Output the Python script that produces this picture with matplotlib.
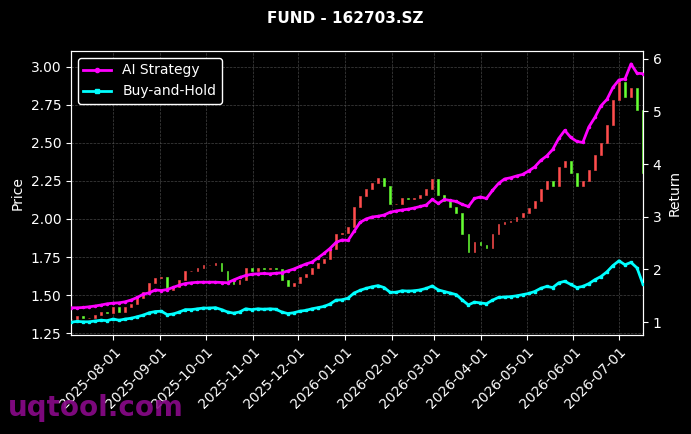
import matplotlib
matplotlib.use("Agg")
import matplotlib.pyplot as plt
import matplotlib.dates as mdates
import numpy as np
import pandas as pd

# ---------------- data ----------------
start_date = "2025-07-04"
end_date = "2026-07-17"

close = [1.34, 1.36, 1.35, 1.35, 1.37, 1.39, 1.38, 1.42, 1.39, 1.42,
         1.44, 1.48, 1.52, 1.58, 1.61, 1.62, 1.53, 1.55, 1.60, 1.66,
         1.66, 1.68, 1.70, 1.70, 1.71, 1.66, 1.60, 1.57, 1.60, 1.68,
         1.66, 1.68, 1.67, 1.68, 1.67, 1.60, 1.56, 1.58, 1.62, 1.64,
         1.68, 1.71, 1.74, 1.80, 1.90, 1.91, 1.95, 2.08, 2.15, 2.20,
         2.24, 2.27, 2.22, 2.10, 2.10, 2.14, 2.13, 2.14, 2.16, 2.20,
         2.26, 2.16, 2.12, 2.08, 2.04, 1.90, 1.78, 1.85, 1.83, 1.81,
         1.90, 1.97, 1.98, 1.99, 2.01, 2.04, 2.07, 2.12, 2.20, 2.25,
         2.22, 2.34, 2.38, 2.30, 2.22, 2.25, 2.32, 2.42, 2.50, 2.62,
         2.78, 2.90, 2.80, 2.86, 2.72, 2.30]

ai_strategy = [1.273, 1.273, 1.279, 1.292, 1.307, 1.326, 1.349, 1.361, 1.368, 1.387,
               1.421, 1.469, 1.531, 1.558, 1.611, 1.601, 1.620, 1.662, 1.702, 1.734,
               1.748, 1.757, 1.759, 1.759, 1.759, 1.753, 1.748, 1.801, 1.848, 1.886,
               1.909, 1.918, 1.924, 1.918, 1.928, 1.937, 1.972, 2.009, 2.057, 2.104,
               2.139, 2.218, 2.304, 2.398, 2.512, 2.560, 2.550, 2.721, 2.892, 2.958,
               2.996, 3.010, 3.034, 3.087, 3.110, 3.129, 3.144, 3.167, 3.195, 3.224,
               3.328, 3.252, 3.328, 3.309, 3.290, 3.233, 3.195, 3.347, 3.376, 3.347,
               3.499, 3.632, 3.717, 3.740, 3.774, 3.803, 3.869, 3.945, 4.068, 4.154,
               4.277, 4.486, 4.638, 4.505, 4.429, 4.410, 4.704, 4.884, 5.103, 5.226,
               5.454, 5.596, 5.615, 5.900, 5.723, 5.715]

title = "FUND - 162703.SZ"
# --------------------------------------

dates = pd.date_range(start_date, end_date, periods=len(close))
close_arr = np.array(close)
open_arr = np.concatenate([[close_arr[0]], close_arr[:-1]])
buy_hold = close_arr / close_arr[0]

up_color = "#ff4d4d"
down_color = "#66ff33"
colors = [up_color if c >= o else down_color for o, c in zip(open_arr, close_arr)]

fig = plt.figure(figsize=(6.91, 4.34), dpi=100, facecolor="black")
ax = fig.add_axes([0.1027, 0.2281, 0.8279, 0.6544])
ax.set_facecolor("black")

ax.bar(dates, close_arr - open_arr, bottom=open_arr, width=1.2,
       color=colors, edgecolor=colors, linewidth=0.4, zorder=2)

ax2 = ax.twinx()
ax2.plot(dates, ai_strategy, color="#ff00ff", lw=2, marker="o", markersize=1.5,
         label="AI Strategy", zorder=3)
ax2.plot(dates, buy_hold, color="#00ffff", lw=2, marker="s", markersize=1.5,
         label="Buy-and-Hold", zorder=3)

ax.set_xlim(dates[0], dates[-1])
ax.set_ylim(1.237, 3.105)
ax2.set_ylim(0.757, 6.145)
ax.set_yticks([1.25, 1.5, 1.75, 2.0, 2.25, 2.5, 2.75, 3.0])
ax2.set_yticks([1, 2, 3, 4, 5, 6])

ax.xaxis.set_major_locator(mdates.MonthLocator())
ax.xaxis.set_major_formatter(mdates.DateFormatter("%Y-%m-%d"))
for lbl in ax.get_xticklabels():
    lbl.set_rotation(45)
    lbl.set_ha("right")
    lbl.set_rotation_mode("anchor")

ax.grid(True, color="#555555", linestyle="--", linewidth=0.5, alpha=0.8)

for a in (ax, ax2):
    for sp in a.spines.values():
        sp.set_color("white")
    a.tick_params(colors="white", labelsize=10)

ax.set_ylabel("Price", color="white", fontsize=10)
ax2.set_ylabel("Return", color="white", fontsize=10)
fig.suptitle(title, color="white", fontsize=11, fontweight="bold", y=0.975)

leg = ax2.legend(loc="upper left", facecolor="black", edgecolor="white",
                 fontsize=10, framealpha=1, markerscale=2)
for t in leg.get_texts():
    t.set_color("white")

fig.text(0.012, 0.042, "uqtool.com", color="#8b0a8b", fontsize=20,
         fontweight="bold", alpha=0.9)

fig.savefig("out.png", dpi=100, facecolor="black")
